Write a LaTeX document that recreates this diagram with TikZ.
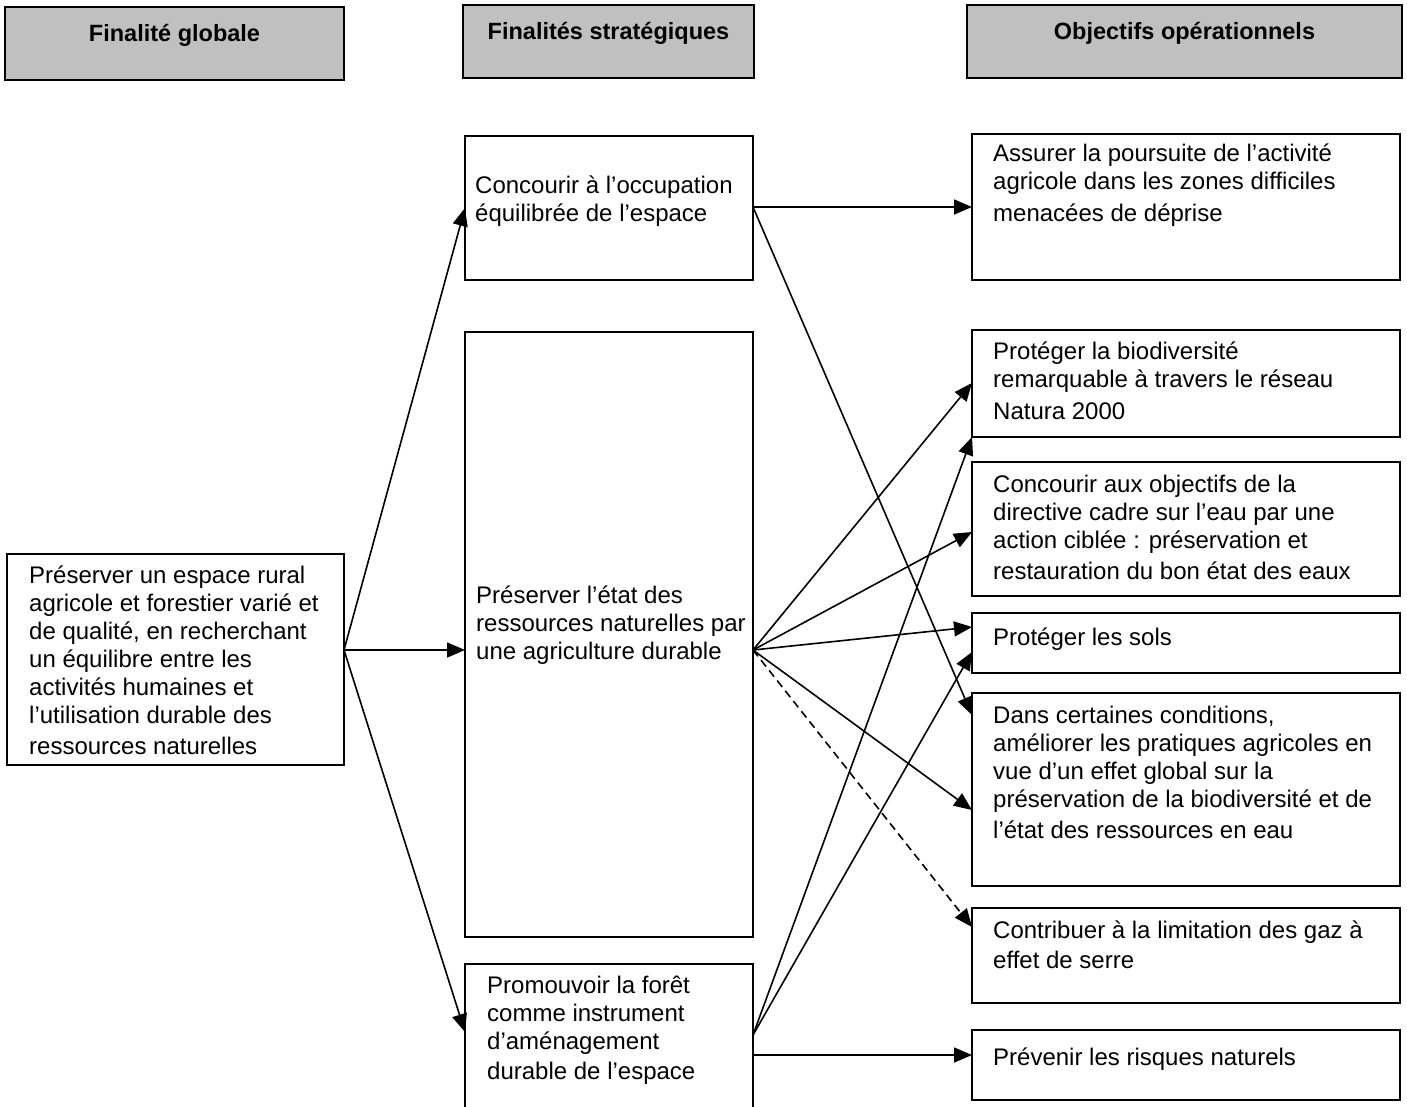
\documentclass[tikz,border=0pt]{standalone}
\usepackage{fontspec}
\setmainfont{Liberation Sans}
\usetikzlibrary{arrows.meta}
\definecolor{hdrgray}{RGB}{192,192,192}
\tikzset{
  bx/.style={draw, line width=1.6pt, inner sep=0pt, outer sep=0pt, anchor=north west},
  hdr/.style={bx, fill=hdrgray},
  txt/.style={anchor=north west, align=left, inner sep=0pt, font=\fontsize{24}{28}\selectfont},
  htxt/.style={anchor=base, inner sep=0pt, font=\fontsize{23.5}{28}\selectfont\bfseries},
  arr/.style={line width=1.6pt, -{Triangle[length=18pt,width=15pt]}},
  darr/.style={arr, dash pattern=on 8pt off 5pt},
}
% name, style, x1, y1, x2, y2
\newcommand\boxat[6]{\node[#2, minimum width={(#5-#3)*1pt}, minimum height={(#6-#4)*1pt}] (#1) at (#3,#4) {};}
% name, x, baseline, text
\newcommand\textat[4]{\node[txt] (#1) at (#2,#3-22) {\rule{0pt}{22pt}#4};}
\begin{document}
\begin{tikzpicture}[x=1pt, y=-1pt]
\useasboundingbox (0,0) rectangle (1407,1106);
% headers
\boxat{H1}{hdr}{5}{7}{344}{80}
\boxat{H2}{hdr}{463}{5}{754}{78}
\boxat{H3}{hdr}{967}{5}{1402}{78}
\node[htxt] (tH1) at (H1.north |- 0,41) {Finalité globale};
\node[htxt] (tH2) at (H2.north |- 0,39) {Finalités stratégiques};
\node[htxt] (tH3) at (H3.north |- 0,39) {Objectifs opérationnels};
% boxes
\boxat{L}{bx}{7}{554}{344}{765}
\boxat{C1}{bx}{465}{136}{753}{280}
\boxat{C2}{bx}{465}{332}{753}{937}
\boxat{C3}{bx}{465}{964}{753}{1130}
\boxat{R1}{bx}{972}{134}{1400}{280}
\boxat{R2}{bx}{972}{330}{1400}{437}
\boxat{R3}{bx}{972}{462}{1400}{596}
\boxat{R4}{bx}{972}{613}{1400}{673}
\boxat{R5}{bx}{972}{693}{1400}{886}
\boxat{R6}{bx}{972}{908}{1400}{1003}
\boxat{R7}{bx}{972}{1030}{1400}{1100}
% texts
\textat{tL}{29}{583}{Préserver un espace rural\\ agricole et forestier varié et\\ de qualité, en recherchant\\ un équilibre entre les\\ activités humaines et\\ l’utilisation durable des\\[3pt] ressources naturelles}
\textat{tC1}{475}{193}{Concourir à l’occupation\\ équilibrée de l’espace}
\textat{tC2}{476}{603}{Préserver l’état des\\ ressources naturelles par\\ une agriculture durable}
\textat{tC3}{487}{993}{Promouvoir la forêt\\ comme instrument\\ d’aménagement\\[2pt] durable de l’espace}
\textat{tR1}{993}{161}{Assurer la poursuite de l’activité\\ agricole dans les zones difficiles\\[4pt] menacées de déprise}
\textat{tR2}{993}{359}{Protéger la biodiversité\\ remarquable à travers le réseau\\[4pt] Natura 2000}
\textat{tR3}{993}{492}{Concourir aux objectifs de la\\ directive cadre sur l’eau par une\\ action ciblée : préservation et\\[3pt] restauration du bon état des eaux}
\textat{tR4}{993}{645}{Protéger les sols}
\textat{tR5}{993}{723}{Dans certaines conditions,\\ améliorer les pratiques agricoles en\\ vue d’un effet global sur la\\ préservation de la biodiversité et de\\[3pt] l’état des ressources en eau}
\textat{tR6}{993}{938}{Contribuer à la limitation des gaz à\\[2pt] effet de serre}
\textat{tR7}{993}{1065}{Prévenir les risques naturels}
% connectors
\draw[arr] (L.east |- 0,650) -- (C1.west |- 0,208);
\draw[arr] (L.east |- 0,650) -- (C2.west |- 0,650);
\draw[arr] (L.east |- 0,650) -- (C3.west |- 0,1032);
\draw[arr] (C1.east |- 0,207) -- (R1.west |- 0,207);
\draw[arr] (C1.east |- 0,207) -- (R5.west |- 0,715);
\draw[arr] (C2.east |- 0,650) -- (R2.west |- 0,383);
\draw[arr] (C2.east |- 0,650) -- (R3.west |- 0,532);
\draw[arr] (C2.east |- 0,650) -- (R4.west |- 0,627);
\draw[arr] (C2.east |- 0,650) -- (R5.west |- 0,810);
\draw[darr] (C2.east |- 0,650) -- (R6.west |- 0,927);
\draw[arr] (C3.east |- 0,1035) -- (R2.south west);
\draw[arr] (C3.east |- 0,1035) -- (R4.west |- 0,652);
\draw[arr] (C3.east |- 0,1055) -- (R7.west |- 0,1055);
\end{tikzpicture}
\end{document}
